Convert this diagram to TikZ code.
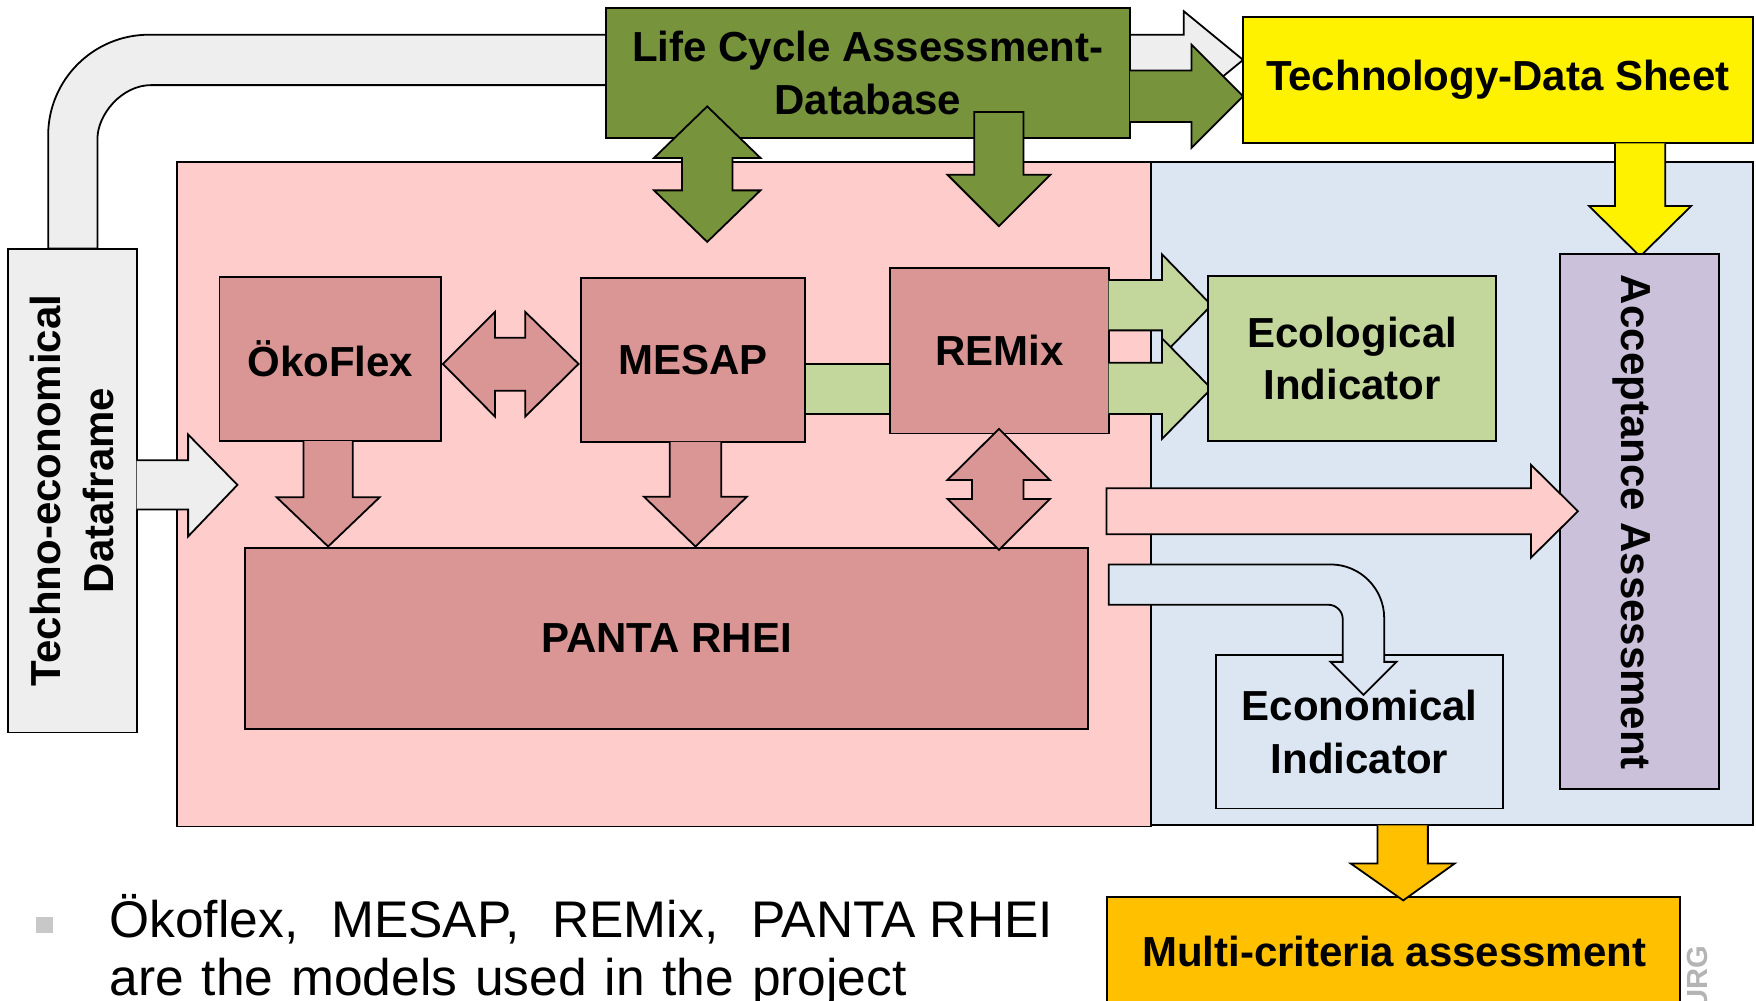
\documentclass[tikz,border=0pt]{standalone}
\usepackage{fontspec}
\setmainfont{Liberation Sans}
\definecolor{pinkbg}{HTML}{FFCCCC}
\definecolor{bluebg}{HTML}{DCE6F2}
\definecolor{rose}{HTML}{D99694}
\definecolor{olive}{HTML}{77933C}
\definecolor{lgreen}{HTML}{C3D69B}
\definecolor{lilac}{HTML}{CCC1DA}
\definecolor{lgray}{HTML}{EEEEEE}
\definecolor{orng}{HTML}{FFC000}
\definecolor{bulletgray}{HTML}{C8C8C8}
\definecolor{logogray}{HTML}{B4B4B4}
\begin{document}
\begin{tikzpicture}[x=1pt,y=-1pt,
  bx/.style={draw=black,line width=1.6pt,line join=miter},
  box/.style={bx,inner sep=0pt,outer sep=0pt},
  lbl/.style={font=\bfseries\fontsize{37.5}{47}\selectfont,inner sep=0pt},
  lbl2/.style={lbl,align=center}]
\useasboundingbox (0,0) rectangle (1568,893);

% panels
\node[box,fill=pinkbg,minimum width=870,minimum height=593] (pink) at (593,441.5) {};
\node[box,fill=bluebg,minimum width=537,minimum height=592] (blue) at (1296.5,441) {};

% grey bent arrow from the dataframe to the data sheet
\draw[bx,fill=lgray] (43,222) -- (43,121) .. controls (43,71.3) and (83.3,31) .. (133,31)
  -- (1057,31) -- (1057,10) -- (1110,53.5) -- (1057,97) -- (1057,76) -- (135,76)
  .. controls (108.5,76) and (87,102.5) .. (87,124) -- (87,222) -- cycle;

% LCA database
\node[box,fill=olive,minimum width=468,minimum height=116,lbl2] (lca) at (775,65) {Life Cycle Assessment-\\Database};
\draw[bx,fill=olive] (1009,63) -- (1064,63) -- (1064,40) -- (1110,86) -- (1064,132) -- (1064,109) -- (1009,109);

% technology data sheet
\node[box,fill=yellow,minimum width=455,minimum height=113,lbl] (tds) at (1337.5,71.5) {Technology-Data Sheet};

% green arrows down from LCA
\draw[bx,fill=olive] (631.5,95) -- (679,141) -- (654,141) -- (654,170) -- (679,170) -- (631.5,216)
  -- (584,170) -- (609,170) -- (609,141) -- (584,141) -- cycle;
\draw[bx,fill=olive] (870,100) -- (914,100) -- (914,156) -- (938,156) -- (892,202) -- (846,156) -- (870,156) -- cycle;

% yellow arrow
\draw[bx,fill=yellow] (1442,128) -- (1442,184) -- (1419,184) -- (1464.5,229) -- (1510,184) -- (1487,184) -- (1487,128);

% techno-economical dataframe
\node[box,fill=lgray,rotate=90,minimum width=432,minimum height=115,lbl2,align=center] (tech) at (64.5,438) {Techno-economical\\Dataframe};
\draw[bx,fill=lgray] (122,411) -- (168,411) -- (168,388) -- (212,433) -- (168,479) -- (168,455) -- (122,455);

% green bar MESAP - REMix
\draw[bx,fill=lgreen] (719,325) rectangle (795,369.6);

% models
\node[box,fill=rose,minimum width=198,minimum height=147,lbl] (oko) at (295,320.5) {ÖkoFlex};
\node[box,fill=rose,minimum width=200,minimum height=146.5,lbl] (mesap) at (619,321.25) {MESAP};
\node[box,fill=rose,minimum width=195,minimum height=148,lbl] (remix) at (892.5,313) {REMix};
\node[box,fill=rose,minimum width=752.5,minimum height=162,lbl] (panta) at (595.25,570) {PANTA RHEI};

% rose arrows
\draw[bx,fill=rose] (395.5,325) -- (442,278.5) -- (442,301.5) -- (469,301.5) -- (469,278.5) -- (516.6,325)
  -- (469,372) -- (469,349) -- (442,349) -- (442,372) -- cycle;
\draw[bx,fill=rose] (271,394) -- (271,444) -- (247,444) -- (293,488) -- (339,444) -- (315,444) -- (315,394);
\draw[bx,fill=rose] (598,394.5) -- (598,443.5) -- (575,443.5) -- (621,488) -- (667,443.5) -- (644,443.5) -- (644,394.5);
\draw[bx,fill=rose] (892,383) -- (937.5,428.6) -- (914,428.6) -- (914,445.5) -- (937.5,445.5) -- (892,491)
  -- (846,445.5) -- (868,445.5) -- (868,428.6) -- (846,428.6) -- cycle;

% green arrows to ecological indicator
\draw[bx,fill=lgreen] (990,250) -- (1037.5,250) -- (1037.5,227) -- (1081.7,272.5) -- (1037.5,318) -- (1037.5,295) -- (990,295);
\draw[bx,fill=lgreen] (990,324) -- (1037.5,324) -- (1037.5,302) -- (1081.7,347) -- (1037.5,392) -- (1037.5,369.6) -- (990,369.6);
\node[box,fill=lgreen,minimum width=257,minimum height=147.6,lbl2] (eco) at (1207.5,320.2) {Ecological\\Indicator};

% acceptance assessment
\node[box,fill=lilac,minimum width=142,minimum height=477.5] (acc) at (1464,465.75) {};
\node[lbl,rotate=-90,text depth=0pt] (acctext) at (1460.5,466.5) {Acceptance Assessment};
\draw[bx,fill=pinkbg] (988,436) -- (1367,436) -- (1367,415) -- (1409,456.5) -- (1367,498) -- (1367,477) -- (988,477) -- cycle;

% economical indicator
\node[box,fill=bluebg,minimum width=256,minimum height=137,lbl2] (econ) at (1214,653.5) {Economical\\Indicator};
\draw[bx,fill=bluebg] (990,504) -- (1188,504) .. controls (1214.5,504) and (1236,525.5) .. (1236,552)
  -- (1236,591) -- (1247,591) -- (1217.5,620.5) -- (1188,591) -- (1199,591) -- (1199,553)
  .. controls (1199,545.8) and (1193.2,540) .. (1186,540) -- (990,540) -- cycle;

% multi-criteria assessment
\node[box,fill=orng,minimum width=511.4,minimum height=120] (mca) at (1244.3,861) {};
\draw[bx,fill=orng] (1230,737) -- (1230,771) -- (1206,771) -- (1253,804) -- (1299,771) -- (1275,771) -- (1275,737);
\node[lbl,anchor=base] (mcatext) at (1245,863.4) {Multi-criteria assessment};

% logo fragment
\node[font=\bfseries\fontsize{26}{30}\selectfont,text=logogray,rotate=90,anchor=base east,inner sep=0pt] (logo) at (1525,844) {URG};

% bullet text
\fill[bulletgray] (32,818.5) rectangle (47.6,833);
\node[anchor=base west,inner sep=0pt,font=\fontsize{46}{52}\selectfont] (line1) at (97.5,837.5)
  {\hbox to 842.5pt{Ökoflex,\hfill MESAP,\hfill REMix,\hfill PANTA RHEI}};
\node[anchor=base west,inner sep=0pt,font=\fontsize{46}{52}\selectfont] (line2) at (97.5,889)
  {\hbox to 712pt{are\hfill the\hfill models\hfill used\hfill in\hfill the\hfill project}};
\end{tikzpicture}
\end{document}
